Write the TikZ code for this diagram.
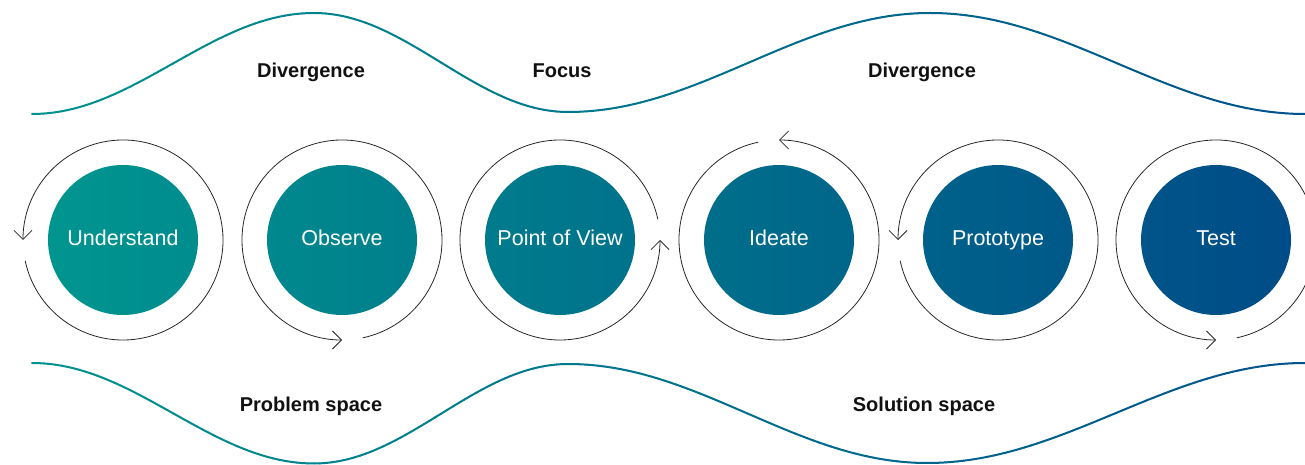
\documentclass[tikz,border=0pt]{standalone}
\usepackage{fontspec}
\setmainfont{Liberation Sans}
\usetikzlibrary{arrows.meta,calc,backgrounds}
\definecolor{cA}{HTML}{00958F}
\definecolor{cB}{HTML}{004C88}
\definecolor{wA}{HTML}{00928E}
\definecolor{wB}{HTML}{00528C}
\definecolor{ink}{HTML}{111111}
\newcommand\wvseg[5]{%
  \foreach \k in {1,...,#5}{%
    \pgfmathsetmacro\wvta{(\k-1)/#5}%
    \pgfmathsetmacro\wvtb{\k/#5}%
    \pgfmathsetmacro\wvxa{#1+(#3-#1)*\wvta}%
    \pgfmathsetmacro\wvxb{#1+(#3-#1)*\wvtb}%
    \pgfmathsetmacro\wvya{#2+(#4-#2)*(1-cos(180*\wvta))/2}%
    \pgfmathsetmacro\wvyb{#2+(#4-#2)*(1-cos(180*\wvtb))/2}%
    \pgfmathtruncatemacro\wvp{((\wvxa+\wvxb)/2-32)/12.73}%
    \draw[wave, draw=wB!\wvp!wA] (\wvxa,\wvya) -- (\wvxb,\wvyb);
  }%
}
\begin{document}
\begin{tikzpicture}[x=1pt,y=1pt,
  stage/.style={circle, minimum size=150pt, inner sep=0pt, text=white,
    text height=15.5pt, text depth=3.5pt,
    font=\fontsize{21.5}{24}\selectfont},
  phase/.style={font=\bfseries\fontsize{20}{24}\selectfont, text=ink,
    inner sep=0pt, text height=14pt, text depth=4pt},
  ring/.style={draw=black!85, line width=0.8pt,
    -{Straight Barb[length=9pt,width=18pt,line width=0.8pt]}},
  wave/.style={line width=2pt, line cap=round}]
\useasboundingbox (0,0) rectangle (1305,465);

% stages
\node[stage] (u) at (123,225) {Understand};
\node[stage] (o) at (342,225) {Observe};
\node[stage] (p) at (560,225) {Point of View};
\node[stage] (i) at (779,225) {Ideate};
\node[stage] (t) at (998,225) {Prototype};
\node[stage] (e) at (1216,225) {Test};

\begin{scope}[on background layer]
\shade[left color=cA, right color=cB]
  (u.center) circle (75pt) (o.center) circle (75pt) (p.center) circle (75pt)
  (i.center) circle (75pt) (t.center) circle (75pt) (e.center) circle (75pt);
\end{scope}

% rings with arrows
\draw[ring] ($(u.center)+(192:100)$) arc[start angle=192, end angle=540, radius=100];
\draw[ring] ($(o.center)+(-78:100)$) arc[start angle=-78, end angle=270, radius=100];
\draw[ring] ($(p.center)+(12:100)$) arc[start angle=12, end angle=360, radius=100];
\draw[ring] ($(i.center)+(102:100)$) arc[start angle=102, end angle=450, radius=100];
\draw[ring] ($(t.center)+(192:100)$) arc[start angle=192, end angle=540, radius=100];
\draw[ring] ($(e.center)+(-78:100)$) arc[start angle=-78, end angle=270, radius=100];

% top wave
\wvseg{32}{351}{314}{452}{48}
\wvseg{314}{452}{568}{353}{44}
\wvseg{568}{353}{930}{452}{60}
\wvseg{930}{452}{1305}{351}{62}
% bottom wave
\wvseg{32}{102}{314}{1.5}{48}
\wvseg{314}{1.5}{568}{101}{44}
\wvseg{568}{101}{927}{2}{60}
\wvseg{927}{2}{1305}{102}{62}

% labels
\node[phase] (d1) at (311,392) {Divergence};
\node[phase] (f1) at (562,392) {Focus};
\node[phase] (d2) at (922,392) {Divergence};
\node[phase] (ps) at (311,58) {Problem space};
\node[phase] (ss) at (924,58) {Solution space};
\end{tikzpicture}
\end{document}
